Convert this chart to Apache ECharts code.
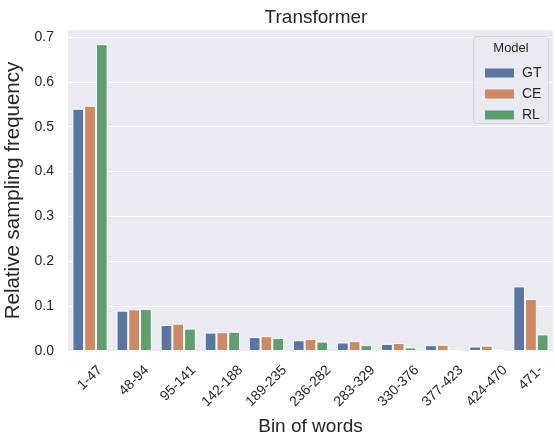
<!DOCTYPE html>
<html>
<head>
<meta charset="utf-8">
<script src="https://cdn.jsdelivr.net/npm/echarts@6/dist/echarts.min.js"></script>
<style>
  html, body { margin: 0; padding: 0; background: #fff; }
  #chart { width: 555px; height: 436px; }
</style>
</head>
<body>
<div id="chart"></div>
<script>
// bins of words (x categories)
const bins = ['1-47', '48-94', '95-141', '142-188', '189-235', '236-282',
  '283-329', '330-376', '377-423', '424-470', '471-'];

// relative sampling frequency per model
const gtValues = [0.540, 0.090, 0.058, 0.041, 0.031, 0.024, 0.019, 0.016, 0.013, 0.010, 0.144];
const ceValues = [0.547, 0.093, 0.061, 0.042, 0.033, 0.027, 0.022, 0.018, 0.014, 0.012, 0.116];
const rlValues = [0.684, 0.094, 0.050, 0.043, 0.029, 0.021, 0.013, 0.008, 0.005, 0.004, 0.037];

const models = ['GT', 'CE', 'RL'];
// seaborn "deep" palette, desaturated like barplot does
const colors = ['#5875A4', '#CC8963', '#5F9E6E'];

const font = '"Liberation Sans", Arial, sans-serif';
const tickSize = 14;
const labelMargin = 24;

// matplotlib keeps the top of rotated labels level, so longer labels sit lower:
// shift each one straight down with a bit of padding in its own (rotated) frame
const ctx = document.createElement('canvas').getContext('2d');
ctx.font = tickSize + 'px "Liberation Sans"';
const labelRich = {};
bins.forEach((b, i) => {
  const w = ctx.measureText(b).width;
  const d = Math.max(0, 0.354 * (w - 20));
  const s = d / Math.SQRT2;
  labelRich['l' + i] = {
    fontFamily: font, fontSize: tickSize, color: '#262626',
    padding: [2 * s, 2 * s, 0, 0]
  };
});

const chart = echarts.init(document.getElementById('chart'));

chart.setOption({
  animation: false,
  backgroundColor: '#fff',
  title: {
    text: 'Transformer',
    left: 311,
    textAlign: 'center',
    top: 3,
    textStyle: { fontFamily: font, fontSize: 19, fontWeight: 'normal', color: '#262626' }
  },
  grid: {
    left: 68, right: 2, top: 30, bottom: 85,
    outerBoundsMode: 'none',
    backgroundColor: '#EAEAF2', show: true, borderWidth: 0
  },
  legend: {
    data: models,
    orient: 'vertical',
    left: 480,
    top: 61,
    itemWidth: 29,
    itemHeight: 9,
    itemGap: 7,
    icon: 'rect',
    itemStyle: { borderWidth: 0 },
    textStyle: { fontFamily: font, fontSize: 14, color: '#262626', padding: [0, 0, 0, 3] }
  },
  graphic: [
    {
      type: 'rect', z: 1,
      shape: { x: 473.5, y: 36.5, width: 75, height: 87, r: 3 },
      style: { fill: 'rgba(234,234,242,0.85)', stroke: '#d4d4dc', lineWidth: 1 }
    },
    {
      type: 'text', z: 2,
      style: { x: 511, y: 48, text: 'Model', textAlign: 'center', textVerticalAlign: 'middle',
        fontFamily: font, fontSize: 13, fill: '#262626' }
    }
  ],
  xAxis: {
    type: 'category',
    data: bins,
    name: 'Bin of words',
    nameLocation: 'middle',
    nameGap: 66,
    nameTextStyle: { fontFamily: font, fontSize: 19, color: '#262626' },
    axisLine: { show: false },
    axisTick: { show: false },
    axisLabel: {
      rotate: 45, interval: 0, margin: labelMargin,
      align: 'center', verticalAlign: 'middle',
      fontFamily: font, fontSize: tickSize, color: '#262626',
      formatter: (v, i) => '{l' + i + '|' + v + '}',
      rich: labelRich
    }
  },
  yAxis: {
    type: 'value',
    min: 0,
    max: 0.7156,
    interval: 0.1,
    name: 'Relative sampling frequency',
    nameLocation: 'middle',
    nameGap: 38,
    nameTextStyle: { fontFamily: font, fontSize: 20.5, color: '#262626' },
    axisLine: { show: false },
    axisTick: { show: false },
    splitLine: { showMaxLine: false, lineStyle: { color: '#fff', width: 1.2 } },
    axisLabel: {
      margin: 14, fontFamily: font, fontSize: tickSize, color: '#262626',
      showMaxLabel: false,
      formatter: v => Math.abs(v * 10 - Math.round(v * 10)) < 1e-6 ? v.toFixed(1) : ''
    }
  },
  series: [gtValues, ceValues, rlValues].map((vals, i) => ({
    name: models[i],
    type: 'bar',
    data: vals,
    barGap: '0%',
    barCategoryGap: '20%',
    itemStyle: { color: colors[i], borderColor: '#fff', borderWidth: 1 }
  }))
});
</script>
</body>
</html>
